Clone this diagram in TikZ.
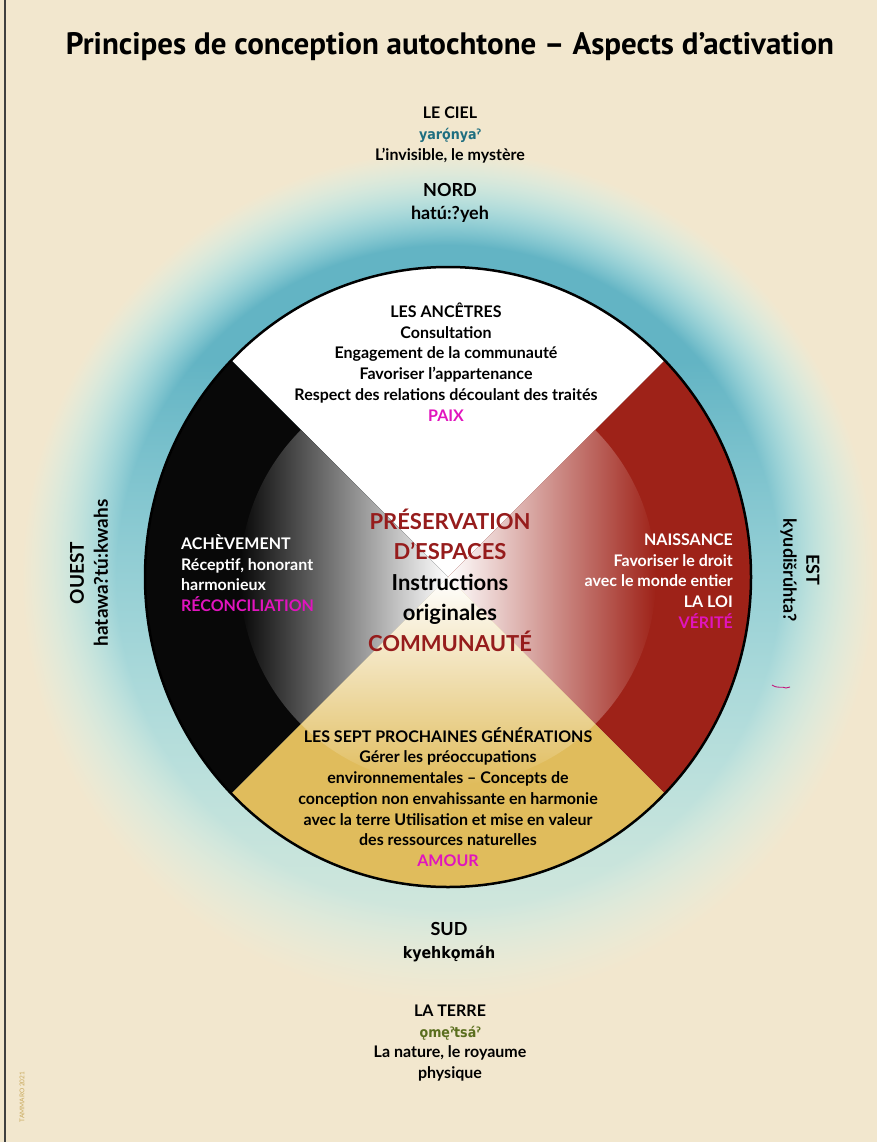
\documentclass[tikz,border=0pt]{standalone}
\usepackage{fontspec}
\setmainfont{Lato}
\newfontfamily\ptsans{PT Sans}
\newfontfamily\nat{DejaVu Sans Condensed}[Scale=0.88]
\definecolor{bgc}{RGB}{242,231,206}
\definecolor{qblack}{RGB}{8,8,8}
\definecolor{qred}{RGB}{158,34,24}
\definecolor{qgold}{RGB}{224,188,92}
\definecolor{mag}{RGB}{225,20,190}
\definecolor{dred}{RGB}{150,28,28}
\definecolor{tealt}{RGB}{30,110,128}
\definecolor{olivet}{RGB}{90,110,30}
\definecolor{goldt}{RGB}{200,168,90}
% glow: centre (50,50) of the shading sits on the circle centre
\pgfdeclarefunctionalshading{glowfn}{\pgfpoint{0bp}{0bp}}{\pgfpoint{100bp}{100bp}}{}{
  50 sub exch 50 sub
  dup mul 1 index dup mul add sqrt
  24.8 exch sub 5.5 div
  dup 0 lt {pop 0} if dup 1 gt {pop 1} if
  exch 0.02 mul 0.75 add
  dup 0.25 lt {pop 0.25} if dup 1 gt {pop 1} if
  mul
  dup dup 1 exch sub mul 0.3 mul
  exch
  dup -0.56 mul 0.949 add 2 index add
  exch
  dup -0.20 mul 0.906 add 3 index add
  exch
  -0.04 mul 0.808 add 3 index add
  4 -1 roll pop
}
\tikzset{
  txt/.style={font=\fontsize{16}{20.7}\selectfont\bfseries, align=center, inner sep=0pt},
  big/.style={font=\fontsize{18}{23}\selectfont\bfseries, align=center, inner sep=0pt},
  ctr/.style={font=\fontsize{22}{30.5}\selectfont\bfseries, align=center, inner sep=0pt},
}
\begin{document}
\begin{tikzpicture}[x=1pt,y=-1pt]
\useasboundingbox (0,0) rectangle (877,1142);
\fill[bgc] (0,0) rectangle (877,1142);
\draw[line width=1.2pt, black!75] (5,0) -- (5,1142);
% glow
\shade[shading=glowfn] (18,147) rectangle (878,1007);
% quadrants
\begin{scope}
\clip (448,577) ellipse [x radius=303, y radius=310];
\fill[white] (448,577) -- (48,177) -- (848,177) -- cycle;
\fill[qblack] (448,577) -- (48,177) -- (48,977) -- cycle;
\fill[qred] (448,577) -- (848,177) -- (848,977) -- cycle;
\fill[qgold] (448,577) -- (48,977) -- (848,977) -- cycle;
\end{scope}
\begin{scope}
\clip (448,577) circle (208);
\begin{scope}
\clip (448,577) -- (48,177) -- (48,977) -- cycle;
\shade[left color=qblack, right color=white] (240,369) rectangle (448,785);
\end{scope}
\begin{scope}
\clip (448,577) -- (848,177) -- (848,977) -- cycle;
\shade[left color=white, right color=qred] (448,369) rectangle (656,785);
\end{scope}
\begin{scope}
\clip (448,577) -- (48,977) -- (848,977) -- cycle;
\shade[top color=white, bottom color=qgold] (240,577) rectangle (656,785);
\end{scope}
\end{scope}
\draw[line width=2.5pt] (448,577) ellipse [x radius=303, y radius=310];
% texts
\node[font=\fontsize{31}{36}\selectfont\ptsans\bfseries, inner sep=0pt] (title) at (450,47) {Principes de conception autochtone – Aspects d’activation};
\node[txt] (ciel) at (450,135) {LE CIEL\\\textcolor{tealt}{\nat\bfseries yarǫ́nyaˀ}\\L’invisible, le mystère};
\node[big] (nord) at (450,203) {NORD\\hatú:?yeh};
\node[txt] (anc) at (446,362) {LES ANCÊTRES\\Consultation\\Engagement de la communauté\\Favoriser l’appartenance\\Respect des relations découlant des traités\\\textcolor{mag}{PAIX}};
\node[txt, text=white, align=left, anchor=west] (ach) at (181,573) {ACHÈVEMENT\\Réceptif, honorant\\harmonieux\\\textcolor{mag}{RÉCONCILIATION}};
\node[txt, text=white, align=right, anchor=east] (nai) at (733,581) {NAISSANCE\\Favoriser le droit\\avec le monde entier\\LA LOI\\\textcolor{mag}{VÉRITÉ}};
\node[ctr] (pres) at (450,580) {\textcolor{dred}{PRÉSERVATION}\\\textcolor{dred}{D’ESPACES}\\Instructions\\originales\\\textcolor{dred}{COMMUNAUTÉ}};
\node[txt] (sept) at (448,797) {LES SEPT PROCHAINES GÉNÉRATIONS\\Gérer les préoccupations\\environnementales – Concepts de\\conception non envahissante en harmonie\\avec la terre Utilisation et mise en valeur\\des ressources naturelles\\\textcolor{mag}{AMOUR}};
\node[big] (sud) at (449,942) {SUD\\{\nat\bfseries kyehkǫmáh}};
\node[txt] (terre) at (450,1043) {LA TERRE\\\textcolor{olivet}{\nat\bfseries ǫmęˀtsáˀ}\\La nature, le royaume\\physique};
\node[big, font=\fontsize{19}{24}\selectfont\bfseries, rotate=90] (ouest) at (89,573) {OUEST\\hatawa?tú:kwahs};
\node[big, rotate=-90] (est) at (800,570) {EST\\kyudišrúhta?};
\node[font=\fontsize{6.5}{8}\selectfont, text=goldt, rotate=90, inner sep=0pt] (tam) at (22,1097) {TAMMARO 2021};
\draw[line width=0.9pt, color=mag!60!dred] (772,685) .. controls (778,689) and (782,686) .. (786,688) -- (790,687);
\end{tikzpicture}
\end{document}
